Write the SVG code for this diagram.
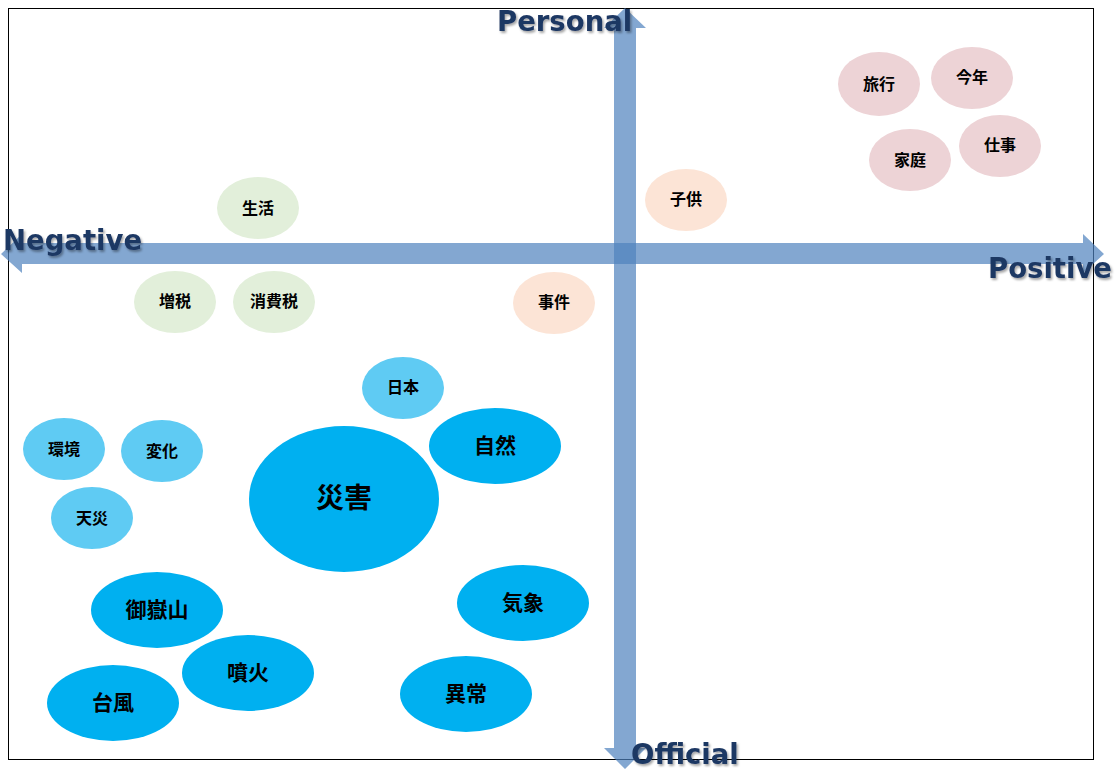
<svg xmlns="http://www.w3.org/2000/svg" width="1118" height="769" viewBox="0 0 1118 769">
<defs>
<filter id="sh" x="-10%" y="-30%" width="130%" height="170%">
<feDropShadow dx="1.5" dy="2" stdDeviation="1.2" flood-color="#000" flood-opacity="0.35"/>
</filter>
<style>
.ax{fill:#1F3864;font-family:"DejaVu Sans",Verdana,sans-serif;font-weight:bold;font-size:27.5px;}
.arr{fill:#4F81BD;fill-opacity:0.7;}
.t{font-family:"Noto Sans CJK JP","Noto Sans CJK SC",sans-serif;font-weight:bold;fill:#000;text-anchor:middle;dominant-baseline:central;}
.s{font-size:16px;}
.m{font-size:21px;}
.l{font-size:28px;}
.pk{fill:#EDD3D6;}
.pe{fill:#FCE4D6;}
.gr{fill:#E2EFDA;}
.lb{fill:#5FCBF3;}
.db{fill:#00B0F0;}
</style>
</defs>
<rect x="0" y="0" width="1118" height="769" fill="#fff"/>
<rect x="8.5" y="8.5" width="1085" height="751" fill="none" stroke="#000" stroke-width="1"/>

<g id="n-ryokou"><ellipse class="pk" cx="879" cy="84" rx="41" ry="32"/><text class="t s" x="879" y="83">旅行</text></g>
<g id="n-konnen"><ellipse class="pk" cx="972" cy="78" rx="41" ry="31"/><text class="t s" x="972" y="76">今年</text></g>
<g id="n-katei"><ellipse class="pk" cx="910" cy="160" rx="41" ry="31"/><text class="t s" x="910" y="159">家庭</text></g>
<g id="n-shigoto"><ellipse class="pk" cx="1000" cy="146" rx="41" ry="31"/><text class="t s" x="1000" y="144">仕事</text></g>
<g id="n-kodomo"><ellipse class="pe" cx="686" cy="200" rx="41" ry="31"/><text class="t s" x="686" y="198">子供</text></g>
<g id="n-jiken"><ellipse class="pe" cx="554" cy="303" rx="41" ry="31"/><text class="t s" x="554" y="301">事件</text></g>
<g id="n-seikatsu"><ellipse class="gr" cx="258" cy="208" rx="41" ry="31"/><text class="t s" x="258" y="207">生活</text></g>
<g id="n-zouzei"><ellipse class="gr" cx="175" cy="302" rx="41" ry="31"/><text class="t s" x="175" y="300">増税</text></g>
<g id="n-shouhizei"><ellipse class="gr" cx="274" cy="302" rx="41" ry="31"/><text class="t s" x="274" y="300">消費税</text></g>
<g id="n-nihon"><ellipse class="lb" cx="403" cy="388" rx="41" ry="31"/><text class="t s" x="403" y="386">日本</text></g>
<g id="n-kankyou"><ellipse class="lb" cx="64" cy="449" rx="41" ry="31"/><text class="t s" x="64" y="448">環境</text></g>
<g id="n-henka"><ellipse class="lb" cx="162" cy="451" rx="41" ry="31"/><text class="t s" x="162" y="450">変化</text></g>
<g id="n-tensai"><ellipse class="lb" cx="92" cy="518" rx="41" ry="31"/><text class="t s" x="92" y="517">天災</text></g>
<g id="n-saigai"><ellipse class="db" cx="344" cy="499" rx="95" ry="73"/><text class="t l" x="344" y="496">災害</text></g>
<g id="n-shizen"><ellipse class="db" cx="495" cy="446" rx="66" ry="38"/><text class="t m" x="495" y="444">自然</text></g>
<g id="n-kishou"><ellipse class="db" cx="523" cy="603" rx="66" ry="38"/><text class="t m" x="523" y="601">気象</text></g>
<g id="n-ontake"><ellipse class="db" cx="157" cy="610" rx="66" ry="38"/><text class="t m" x="157" y="608">御嶽山</text></g>
<g id="n-funka"><ellipse class="db" cx="248" cy="673" rx="66" ry="38"/><text class="t m" x="248" y="671">噴火</text></g>
<g id="n-taifuu"><ellipse class="db" cx="113" cy="703" rx="66" ry="38"/><text class="t m" x="113" y="701">台風</text></g>
<g id="n-ijou"><ellipse class="db" cx="466" cy="694" rx="66" ry="38"/><text class="t m" x="466" y="692">異常</text></g>

<g id="connectors">
<polygon class="arr" points="1,254 22,234 22,243 1083,243 1083,234 1104,254 1083,273 1083,264 22,264 22,273"/>
<polygon class="arr" points="625,8 646,28 636,28 636,748 646,748 625,769 604,748 614,748 614,28 604,28"/>
</g>

<g id="axis-labels" filter="url(#sh)">
<text class="ax" x="497" y="31">Personal</text>
<text class="ax" x="3" y="250">Negative</text>
<text class="ax" x="988" y="278">Positive</text>
<text class="ax" x="631" y="764">Official</text>
</g>
</svg>
